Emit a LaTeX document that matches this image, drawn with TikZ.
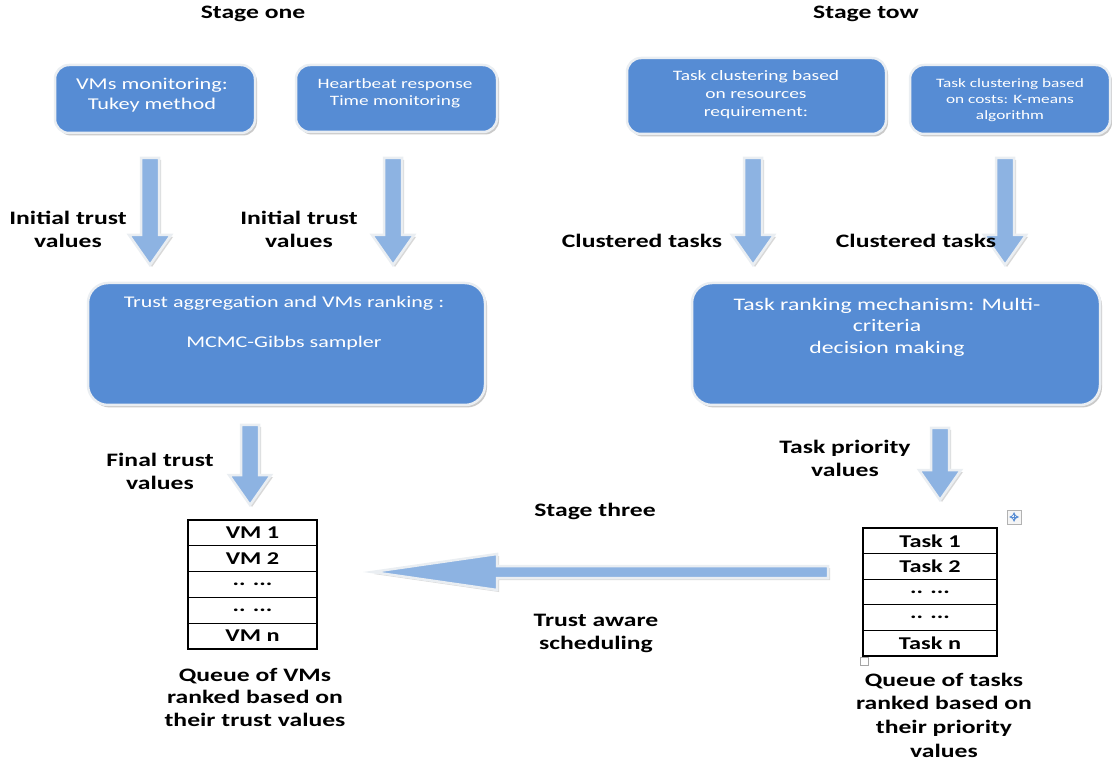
\documentclass[tikz,border=0pt]{standalone}
\usepackage{fontspec}
\setmainfont{Carlito}[FakeStretch=1.35]
\usetikzlibrary{shadows}
\definecolor{boxblue}{RGB}{86,140,212}
\definecolor{arrblue}{RGB}{141,179,226}
\definecolor{rim}{RGB}{234,238,242}
\tikzset{
  box/.style={rounded corners=14pt, fill=boxblue, draw=rim, line width=2.5pt,
    drop shadow={shadow xshift=2pt, shadow yshift=-2.5pt, fill=gray!70, opacity=0.6}},
  boxtext/.style={text=white, align=center},
  lbl/.style={font=\bfseries\fontsize{19}{23}\selectfont, align=center, text=black},
  blockarrow/.style={fill=arrblue, draw=rim, line width=2.5pt, line join=miter,
    drop shadow={shadow xshift=2pt, shadow yshift=-2pt, fill=gray!60, opacity=0.5}},
  cell/.style={draw=black, line width=1.1pt, inner sep=0pt,
    font=\bfseries\fontsize{18}{20}\selectfont},
}
\newcommand\blkdown[4]{%
  \draw[blockarrow] (#1-#4,#2) -- (#1+#4,#2) -- (#1+#4,#3-30) -- (#1+21,#3-30)
    -- (#1,#3) -- (#1-21,#3-30) -- (#1-#4,#3-30) -- cycle;}
\begin{document}
\begin{tikzpicture}[x=1pt,y=-1pt]
\useasboundingbox (0,0) rectangle (1112,767);

% titles
\node[lbl] (s1) at (253,14) {Stage one};
\node[lbl] (s2) at (866,14) {Stage tow};

% top boxes
\node[box, minimum width=200, minimum height=68] (b1) at (155,99) {};
\node[boxtext, font=\fontsize{16.5}{20}\selectfont] (t1) at (152,95) {VMs monitoring:\\Tukey method};
\node[box, minimum width=201, minimum height=67] (b2) at (396.5,98.5) {};
\node[boxtext, font=\fontsize{14.3}{17}\selectfont] (t2) at (395,93.5) {Heartbeat response\\Time monitoring};
\node[box, minimum width=259, minimum height=76] (b3) at (756.5,96) {};
\node[boxtext, font=\fontsize{14.4}{18}\selectfont] (t3) at (756,95) {Task clustering based\\on resources\\requirement:};
\node[box, minimum width=200, minimum height=69] (b4) at (1010,99.5) {};
\node[boxtext, font=\fontsize{12.8}{16}\selectfont] (t4) at (1010,100) {Task clustering based\\on costs: K-means\\algorithm};

% down arrows from top boxes
\blkdown{150}{158}{265}{9}
\blkdown{393}{158}{265}{9}
\blkdown{753}{158}{265}{9}
\blkdown{1005}{158}{265}{9}

\node[lbl] (l1) at (68,229) {Initial trust\\values};
\node[lbl] (l2) at (299,229) {Initial trust\\values};
\node[lbl] (l3) at (642,241) {Clustered tasks};
\node[lbl] (l4) at (916,241) {Clustered tasks};

% middle boxes
\node[box, rounded corners=20pt, minimum width=397, minimum height=122] (b5) at (286.5,344) {};
\node[boxtext, font=\fontsize{16.3}{40}\selectfont] (t5) at (284,323) {Trust aggregation and VMs ranking :\\MCMC-Gibbs sampler};
\node[box, rounded corners=20pt, minimum width=408, minimum height=122] (b6) at (896,344) {};
\node[boxtext, font=\fontsize{17.6}{21.5}\selectfont] (t6) at (887,327) {Task ranking mechanism: Multi-\\criteria\\decision making};

% lower down arrows
\blkdown{250}{425}{505}{9}
\blkdown{940}{428}{500}{9}
\node[lbl] (l5) at (160,471) {Final trust\\values};
\node[lbl] (l6) at (845,458) {Task priority\\values};

% VM table
\node[cell, minimum width=129, minimum height=25.8] (vm1) at (252.5,532.9) {VM 1};
\node[cell, minimum width=129, minimum height=25.8] (vm2) at (252.5,558.7) {VM 2};
\node[cell, minimum width=129, minimum height=25.8] (vm3) at (252.5,584.5) {.. ...};
\node[cell, minimum width=129, minimum height=25.8] (vm4) at (252.5,610.3) {.. ...};
\node[cell, minimum width=129, minimum height=25.8] (vm5) at (252.5,636.1) {VM n};

% Task table
\node[cell, minimum width=134, minimum height=25.6] (tk1) at (930,540.8) {Task 1};
\node[cell, minimum width=134, minimum height=25.6] (tk2) at (930,566.4) {Task 2};
\node[cell, minimum width=134, minimum height=25.6] (tk3) at (930,592) {.. ...};
\node[cell, minimum width=134, minimum height=25.6] (tk4) at (930,617.6) {.. ...};
\node[cell, minimum width=134, minimum height=25.6] (tk5) at (930,643.2) {Task n};

% table handles
\node[draw=gray!60, fill=gray!8, minimum size=14, inner sep=0pt] (h1) at (1014,517) {};
\draw[-stealth, boxblue, line width=0.8pt] (h1.center) -- ++(0,-5);
\draw[-stealth, boxblue, line width=0.8pt] (h1.center) -- ++(0,5);
\draw[-stealth, boxblue, line width=0.8pt] (h1.center) -- ++(-5,0);
\draw[-stealth, boxblue, line width=0.8pt] (h1.center) -- ++(5,0);
\node[draw=gray!70, fill=white, minimum size=8, inner sep=0pt] (h2) at (864,661) {};

% big left arrow
\draw[blockarrow] (828,566) -- (497,566) -- (497,554) -- (372,572) -- (497,590) -- (497,578) -- (828,578) -- cycle;

\node[lbl] (l7) at (595,511) {Stage three};
\node[lbl] (l8) at (596,633) {Trust aware\\scheduling};

\node[lbl, font=\bfseries\fontsize{19}{22.5}\selectfont] (q1) at (255,697) {Queue of VMs\\ranked based on\\their trust values};
\node[lbl, font=\bfseries\fontsize{19}{23.7}\selectfont] (q2) at (944,715) {Queue of tasks\\ranked based on\\their priority\\values};
\end{tikzpicture}
\end{document}
